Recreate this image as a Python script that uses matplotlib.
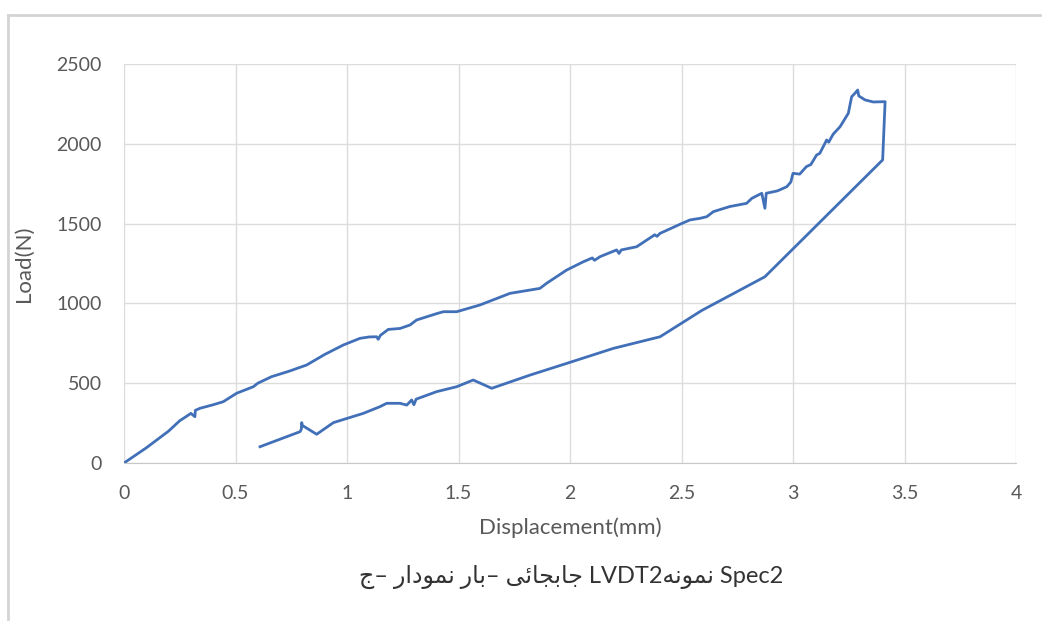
import matplotlib.pyplot as plt
from matplotlib.lines import Line2D

# Load-displacement curve (loading, then unloading back)
displacement = [0, 0.10, 0.20, 0.25, 0.28, 0.30, 0.318, 0.32, 0.341, 0.40, 0.445, 0.505,
                0.58, 0.60, 0.662, 0.74, 0.819, 0.90, 0.983, 1.058, 1.10, 1.133, 1.14, 1.15,
                1.185, 1.238, 1.283, 1.312, 1.40, 1.432, 1.492, 1.596, 1.731, 1.865, 1.895,
                1.985, 2.06, 2.10, 2.11, 2.135, 2.209, 2.22, 2.23, 2.299, 2.38, 2.39, 2.404,
                2.50, 2.538, 2.583, 2.613, 2.643, 2.717, 2.792, 2.815, 2.86, 2.874, 2.88,
                2.93, 2.972, 2.99, 3.0, 3.03, 3.06, 3.08, 3.106, 3.12, 3.151, 3.16, 3.18,
                3.211, 3.248, 3.263, 3.28, 3.29, 3.295, 3.323, 3.36, 3.413,
                3.402, 2.874, 2.59, 2.404, 2.194, 1.985, 1.821, 1.649, 1.566, 1.492, 1.402,
                1.31, 1.30, 1.29, 1.268, 1.238, 1.193, 1.178, 1.148, 1.073, 0.939, 0.864,
                0.80, 0.797, 0.795, 0.789, 0.61]
load = [0, 95, 200, 265, 292, 311, 290, 330, 343, 365, 384, 437,
        478, 500, 541, 575, 614, 680, 739, 781, 790, 791, 775, 800,
        837, 843, 865, 896, 935, 948, 948, 990, 1063, 1094, 1126,
        1209, 1261, 1285, 1270, 1293, 1335, 1313, 1335, 1355, 1430, 1420, 1439,
        1500, 1523, 1533, 1543, 1575, 1607, 1627, 1658, 1690, 1596, 1690,
        1705, 1731, 1760, 1815, 1810, 1857, 1870, 1930, 1940, 2024, 2010, 2060,
        2107, 2191, 2295, 2320, 2337, 2300, 2275, 2262, 2264,
        1899, 1167, 955, 791, 718, 624, 551, 468, 520, 478, 447,
        400, 365, 395, 363, 374, 374, 374, 353, 311, 253, 180,
        235, 253, 210, 196, 102]

x_ticks = [0, 0.5, 1, 1.5, 2, 2.5, 3, 3.5, 4]
y_ticks = [0, 500, 1000, 1500, 2000, 2500]

# caption: matplotlib has no arabic shaping/bidi, so words are given
# as presentation forms in visual (left to right) order
w_jim = "\uFE9D"
w_nemodar = "\uFEAD\uFE8D\uFEA9\uFEEE\uFEE4\uFEE7"
w_bar = "\uFEAD\uFE8E\uFE91"
w_jabejai = "\uFEF0\uFE8B\uFE8E\uFEA0\uFE91\uFE8E\uFE9F"
w_nemune = "\uFEEA\uFEE7\uFEEE\uFEE4\uFEE7"
caption = f"{w_jim}\u2013 {w_nemodar} {w_bar}\u2013 {w_jabejai} LVDT2{w_nemune} Spec2"

fonts = ['Lato', 'DejaVu Sans']
plt.rcParams['font.family'] = fonts

fig = plt.figure(figsize=(10.42, 6.21), dpi=100)
ax = fig.add_axes([124/1042, 1 - 463/621, (1016 - 124)/1042, (463 - 64)/621])

ax.plot(displacement, load, color='#4170b8', linewidth=2.0, solid_joinstyle='round')

ax.set_xlim(0, 4)
ax.set_ylim(0, 2500)
ax.set_xticks(x_ticks)
ax.set_xticklabels([f"{t:g}" for t in x_ticks])
ax.set_yticks(y_ticks)
ax.grid(True, color='#dcdcdc', linewidth=1.0)
ax.set_axisbelow(True)
for s in ['top', 'right', 'left']:
    ax.spines[s].set_visible(False)
ax.spines['bottom'].set_color('#c8c8c8')
ax.tick_params(length=0, labelsize=14, colors='#595959')
ax.tick_params(axis='x', pad=16)
ax.tick_params(axis='y', pad=16)

ax.set_xlabel("Displacement(mm)", fontsize=16, color='#595959', labelpad=11)
ax.set_ylabel("Load(N)", fontsize=16, color='#595959', labelpad=16)

fig.text(571/1042, 1 - 577/621, caption, ha='center', va='center',
         fontsize=17, color='#333333', family=fonts)

# outer frame lines of the screenshot
fig.add_artist(Line2D([8/1042, 8/1042], [0, 1 - 15/621], transform=fig.transFigure,
                      color='#d4d4d4', linewidth=2))
fig.add_artist(Line2D([8/1042, 1040/1042], [1 - 15/621, 1 - 15/621], transform=fig.transFigure,
                      color='#d4d4d4', linewidth=2))

fig.savefig("out.png", dpi=100)
